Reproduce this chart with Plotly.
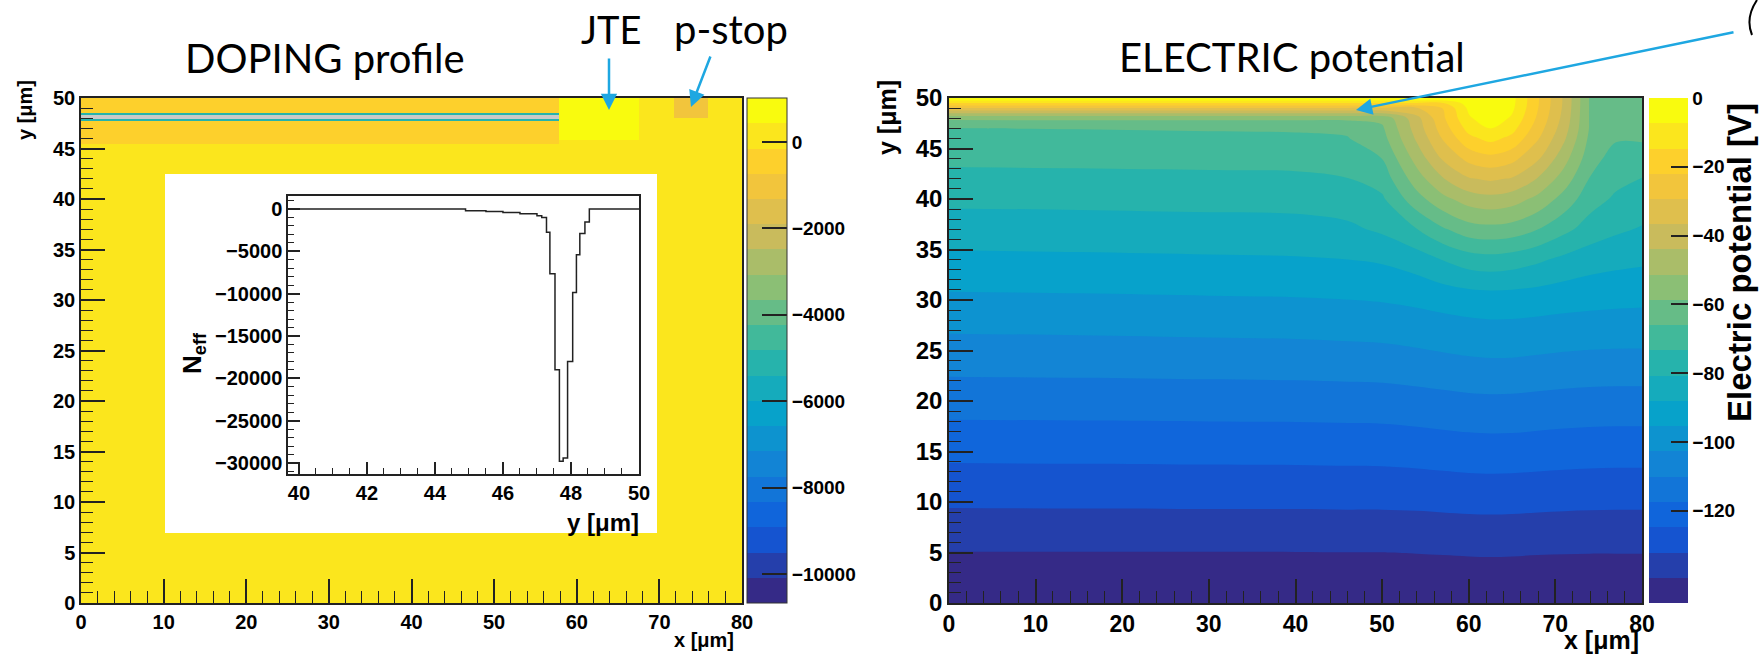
import numpy as np
import plotly.graph_objects as go

W, H = 1760, 657

# ---------------- data ----------------
# Left panel: doping map (2D histogram bins)
dop_x_edges = [0, 57.8, 67.5, 71.8, 75.9, 80]
dop_y_edges = [0, 45.4, 45.8, 47.75, 47.95, 48.0, 48.35, 48.55, 50]
dop_values = [
    [100, 100, 100, 100, 100],
    [-450, 100, 100, 100, 100],
    [-450, 700, 100, 100, 100],
    [-5000, 700, 100, 100, 100],
    [-30000, 700, 100, 100, 100],
    [-30000, 700, 100, -1000, 100],
    [-5000, 700, 100, -1000, 100],
    [-450, 700, 100, -1000, 100],
]
dop_cbar_ticks = [0, -2000, -4000, -6000, -8000, -10000]

# Inset: Neff profile vs y (step histogram)
neff_y_edges = [39.7, 44.9, 45.5, 46.0, 46.5, 47.0, 47.14, 47.28, 47.38, 47.53,
                47.66, 47.77, 47.90, 48.05, 48.16, 48.26, 48.41, 48.54, 50.0]
neff_values = [0, -200, -300, -400, -550, -800, -1000, -2750, -7650, -19000,
               -29800, -29400, -18000, -9850, -5400, -2900, -1550, 0]
neff_ticks = [0, -5000, -10000, -15000, -20000, -25000, -30000]

# Right panel: electric potential [V] on a coarse grid
pot_x = [0, 15, 30, 40, 46, 50, 54, 57, 60, 62.5, 65, 68, 71, 74, 77, 80]
pot_y = [0, 5, 10, 15, 20, 25, 30, 34, 37, 40, 42, 44, 46, 47, 48, 49, 49.5, 50]
pot_v = [
    [-146.5, -146.5, -146.5, -146.5, -146.4, -146.4, -146.3, -146.2, -146.1, -146.1, -146.1, -146.2, -146.3, -146.3, -146.3, -146.3],
    [-139.6, -139.6, -139.6, -139.55, -139.5, -139.5, -139.3, -139.1, -138.9, -138.8, -138.9, -139.1, -139.2, -139.3, -139.3, -139.3],
    [-131.1, -131.0, -130.9, -130.9, -130.8, -130.8, -130.6, -130.3, -130.0, -129.9, -130.0, -130.3, -130.55, -130.7, -130.8, -130.8],
    [-122.9, -122.8, -122.65, -122.55, -122.4, -122.3, -121.84, -121.38, -120.94, -120.76, -120.82, -121.18, -121.54, -121.78, -121.9, -121.9],
    [-114.2, -114.08, -113.9, -113.78, -113.6, -113.48, -112.88, -112.28, -111.7, -111.47, -111.56, -112.04, -112.52, -112.84, -113.0, -113.0],
    [-105.7, -105.44, -105.05, -104.79, -104.4, -104.14, -103.28, -102.42, -101.61, -101.26, -101.3, -101.9, -102.5, -102.9, -103.1, -103.1],
    [-96.9, -96.62, -96.2, -95.92, -95.5, -95.0, -94.0, -93.0, -92.19, -91.77, -91.85, -92.3, -92.9, -93.4, -93.8, -94.1],
    [-89.7, -89.41, -88.98, -88.69, -88.09, -87.2, -84.5, -80.5, -77.0, -76.0, -77.0, -79.5, -82.5, -84.8, -86.0, -86.8],
    [-84.4, -84.1, -83.65, -83.35, -82.2, -79.5, -73.6, -67.0, -62.0, -61.0, -62.0, -66.0, -71.5, -76.5, -79.5, -81.4],
    [-79.1, -78.85, -78.48, -78.23, -77.0, -74.5, -61.5, -53.5, -48.0, -46.3, -48.0, -53.5, -61.5, -70.5, -74.5, -76.6],
    [-75.5, -75.31, -75.03, -74.84, -73.6, -70.3, -54.8, -44.6, -37.3, -35.6, -37.3, -44.6, -54.8, -66.5, -71.5, -73.6],
    [-71.9, -71.64, -71.25, -70.99, -70.35, -66.0, -48.6, -35.9, -27.1, -24.3, -27.1, -35.9, -48.6, -63.0, -69.3, -69.3],
    [-68.0, -67.73, -67.33, -67.06, -66.4, -61.5, -42.9, -28.8, -16.6, -12.6, -16.6, -28.8, -42.9, -60.5, -65.3, -65.3],
    [-66.1, -65.88, -65.55, -65.33, -64.75, -59.8, -40.7, -25.8, -12.1, -7.3, -12.1, -25.8, -40.7, -59.5, -63.9, -63.9],
    [-57.0, -57.0, -57.0, -57.0, -57.0, -57.0, -39.1, -23.4, -8.4, -2.8, -8.4, -23.4, -39.1, -59.5, -62.7, -62.7],
    [-30.0, -30.0, -30.0, -30.0, -30.0, -30.0, -30.0, -21.9, -5.9, -0.3, -5.9, -21.9, -38.1, -59.5, -61.8, -61.8],
    [-15.0, -15.0, -15.0, -15.0, -15.0, -15.0, -15.0, -15.0, -4.0, 0.0, -5.3, -21.5, -37.8, -59.5, -61.4, -61.4],
    [0.0, 0.0, 0.0, 0.0, 0.0, 0.0, 0.0, 0.0, -1.0, 0.0, -5.0, -21.4, -37.7, -59.5, -61.0, -61.0],
]
pot_range = [-146.8, 0.0]
pot_cbar_ticks = [0, -20, -40, -60, -80, -100, -120]

# ---------------- style helpers ----------------
BIRD_S = [0, .125, .25, .375, .5, .625, .75, .875, 1]
BIRD_R = [0.2082, 0.0592, 0.0780, 0.0232, 0.1802, 0.5301, 0.8186, 0.9956, 0.9764]
BIRD_G = [0.1664, 0.3599, 0.5041, 0.6419, 0.7178, 0.7492, 0.7328, 0.7862, 0.9832]
BIRD_B = [0.5293, 0.8684, 0.8385, 0.7914, 0.6425, 0.4662, 0.3499, 0.1968, 0.0539]


def bird(f):
    r = np.interp(f, BIRD_S, BIRD_R) * 255
    g = np.interp(f, BIRD_S, BIRD_G) * 255
    b = np.interp(f, BIRD_S, BIRD_B) * 255
    return f"rgb({r:.0f},{g:.0f},{b:.0f})"


NB = 20
stepped = []
for i in range(NB):
    c = bird(i / (NB - 1))
    stepped += [[i / NB, c], [(i + 1) / NB, c]]
bird_cont = [[s, bird(s)] for s in BIRD_S]

FONT = "Liberation Sans, Arial, sans-serif"
TITLE_FONT = "Lato, Carlito, Calibri, sans-serif"
ARROW_C = "#1ea7e1"


def px(x):
    return x / W


def py(y):
    return 1 - y / H


def minus(v):
    return f"{v:d}".replace("-", "\u2212")


fig = go.Figure()

# ---- left: doping map ----
zmin_d, zmax_d = -10670, 1018
z = np.array(dop_values, dtype=float)
z_main = np.where(z < zmin_d, np.nan, z)
z_under = np.where(z < zmin_d, 1.0, np.nan)

fig.add_trace(go.Heatmap(
    x=dop_x_edges, y=dop_y_edges, z=z_under.tolist(),
    colorscale=[[0, "#c9c9c9"], [1, "#c9c9c9"]], showscale=False,
    xaxis="x", yaxis="y", hoverinfo="skip"))
fig.add_trace(go.Heatmap(
    x=dop_x_edges, y=dop_y_edges, z=z_main.tolist(),
    zmin=zmin_d, zmax=zmax_d, colorscale=stepped,
    xaxis="x", yaxis="y", hoverinfo="skip",
    colorbar=dict(
        x=px(747), xanchor="left", y=py(350.5), yanchor="middle",
        len=505, lenmode="pixels", thickness=40, thicknessmode="pixels",
        xpad=0, ypad=0, outlinewidth=1, outlinecolor="#333",
        ticks="inside", ticklen=25, tickwidth=1.5, tickcolor="#222",
        tickvals=dop_cbar_ticks, ticktext=[minus(v) for v in dop_cbar_ticks],
        tickfont=dict(family=FONT, size=19, color="black", weight="bold"))))

# white inset box (own subplot so its background paints over the map)
fig.add_trace(go.Scatter(x=[None], y=[None], xaxis="x3", yaxis="y3",
                         showlegend=False, hoverinfo="skip"))

# ---- inset: Neff profile ----
fig.add_trace(go.Scatter(
    x=neff_y_edges, y=neff_values + [neff_values[-1]],
    mode="lines", line=dict(color="#222", width=1.5, shape="hv"),
    xaxis="x4", yaxis="y4", hoverinfo="skip", showlegend=False))

# ---- right: electric potential ----
step = (pot_range[1] - pot_range[0]) / NB
fig.add_trace(go.Contour(
    x=pot_x, y=pot_y, z=pot_v,
    autocontour=False,
    contours=dict(start=pot_range[0] + step, end=pot_range[1] - step, size=step,
                  coloring="fill", showlines=False),
    line=dict(width=0, smoothing=1.0),
    colorscale=bird_cont, showscale=False,
    xaxis="x2", yaxis="y2", hoverinfo="skip"))
# palette axis for the potential
fig.add_trace(go.Scatter(
    x=[None], y=[None], mode="markers", xaxis="x2", yaxis="y2",
    hoverinfo="skip", showlegend=False,
    marker=dict(color=[pot_range[0]], cmin=pot_range[0], cmax=pot_range[1],
                colorscale=stepped, showscale=True,
                colorbar=dict(
                    x=px(1649), xanchor="left", y=py(350.5), yanchor="middle",
                    len=505, lenmode="pixels", thickness=39, thicknessmode="pixels",
                    xpad=0, ypad=0, outlinewidth=0,
                    ticks="inside", ticklen=17, tickwidth=1.5, tickcolor="#222",
                    tickvals=pot_cbar_ticks, ticktext=[minus(v) for v in pot_cbar_ticks],
                    tickfont=dict(family=FONT, size=19, color="black", weight="bold")))))


def main_axis(domain, rng, dtick, mdtick, anchor, fsize, tlen=24, family=FONT):
    return dict(
        domain=domain, range=rng, anchor=anchor,
        showgrid=False, zeroline=False,
        showline=True, mirror=True, linecolor="#222", linewidth=1.5,
        ticks="inside", ticklen=tlen, tickwidth=1.6, tickcolor="#222",
        tick0=0, dtick=dtick,
        minor=dict(ticks="inside", ticklen=tlen / 2, tickwidth=1.3,
                   tickcolor="#222", dtick=mdtick, tick0=0),
        tickfont=dict(family=family, size=fsize, color="black", weight="bold"),
    )


layout_y = [py(603), py(98)]
fig.update_layout(
    width=W, height=H, autosize=False,
    margin=dict(l=0, r=0, t=0, b=0, autoexpand=False),
    paper_bgcolor="white", plot_bgcolor="white",
    showlegend=False,
    xaxis=main_axis([px(81), px(742)], [0, 80], 10, 2, "y", 20),
    yaxis=main_axis(layout_y, [0, 50], 5, 1, "x", 20),
    xaxis2=main_axis([px(949), px(1642)], [0, 80], 10, 2, "y2", 23),
    yaxis2=main_axis(layout_y, [0, 50], 5, 1, "x2", 24),
    xaxis3=dict(domain=[px(165), px(657)], range=[0, 1], anchor="y3", visible=False),
    yaxis3=dict(domain=[py(533), py(174)], range=[0, 1], anchor="x3", visible=False),
    xaxis4=dict(main_axis([px(288), px(639)], [39.68, 50], 2, 0.5, "y4", 20, tlen=12),
                tick0=40, minor=dict(ticks="inside", ticklen=6, tickwidth=1.2,
                                     tickcolor="#222", dtick=0.5, tick0=40)),
    yaxis4=dict(main_axis([py(474), py(196)], [-31300, 1535], 5000, 1000, "x4", 20, tlen=12),
                tickvals=neff_ticks, ticktext=[minus(v) for v in neff_ticks]),
)

ann = []


def text(t, x, y, size, family=FONT, bold=True, angle=0, xanchor="center", yanchor="middle"):
    ann.append(dict(text=t, x=px(x), y=py(y), xref="paper", yref="paper",
                    showarrow=False, xanchor=xanchor, yanchor=yanchor, textangle=angle,
                    font=dict(family=family, size=size, color="black",
                              weight="bold" if bold else "normal")))


def arrow(x0, y0, x1, y1):
    ann.append(dict(text="", x=px(x1), y=py(y1), xref="paper", yref="paper",
                    ax=x0 - x1, ay=y0 - y1, axref="pixel", ayref="pixel",
                    showarrow=True, arrowhead=2, arrowsize=1.3, arrowwidth=2.5,
                    arrowcolor=ARROW_C, standoff=0, startstandoff=0))


# panel titles
text("DOPING profile", 325, 58, 40, family=TITLE_FONT, bold=False)
text("JTE", 611, 29, 38, family=TITLE_FONT, bold=False)
text("p-stop", 731, 29, 40, family=TITLE_FONT, bold=False)
text("ELECTRIC potential", 1292, 57, 40, family=TITLE_FONT, bold=False)
arrow(609, 57, 609, 110)
arrow(711, 55, 691, 107)
arrow(1735, 32, 1356, 110)

# axis titles
text("x [μm]", 736, 640, 20, xanchor="right")
text("y [μm]", 25, 110, 20, angle=-90)
text("x [μm]", 1641, 640, 25, xanchor="right")
text("y [μm]", 887, 118, 25, angle=-90)
text("y [μm]", 641, 522, 24, xanchor="right")
text("N<sub>eff</sub>", 193, 353, 26, angle=-90)
text("Electric potential [V]", 1740, 263, 33, angle=-90)

fig.update_layout(annotations=ann)

# partial curved stroke at the top-right corner
fig.add_shape(type="path", xref="paper", yref="paper",
              path=f"M {px(1757)},{py(0)} Q {px(1745)},{py(18)} {px(1752)},{py(35)}",
              line=dict(color="black", width=2))

fig.write_html("out.html")
